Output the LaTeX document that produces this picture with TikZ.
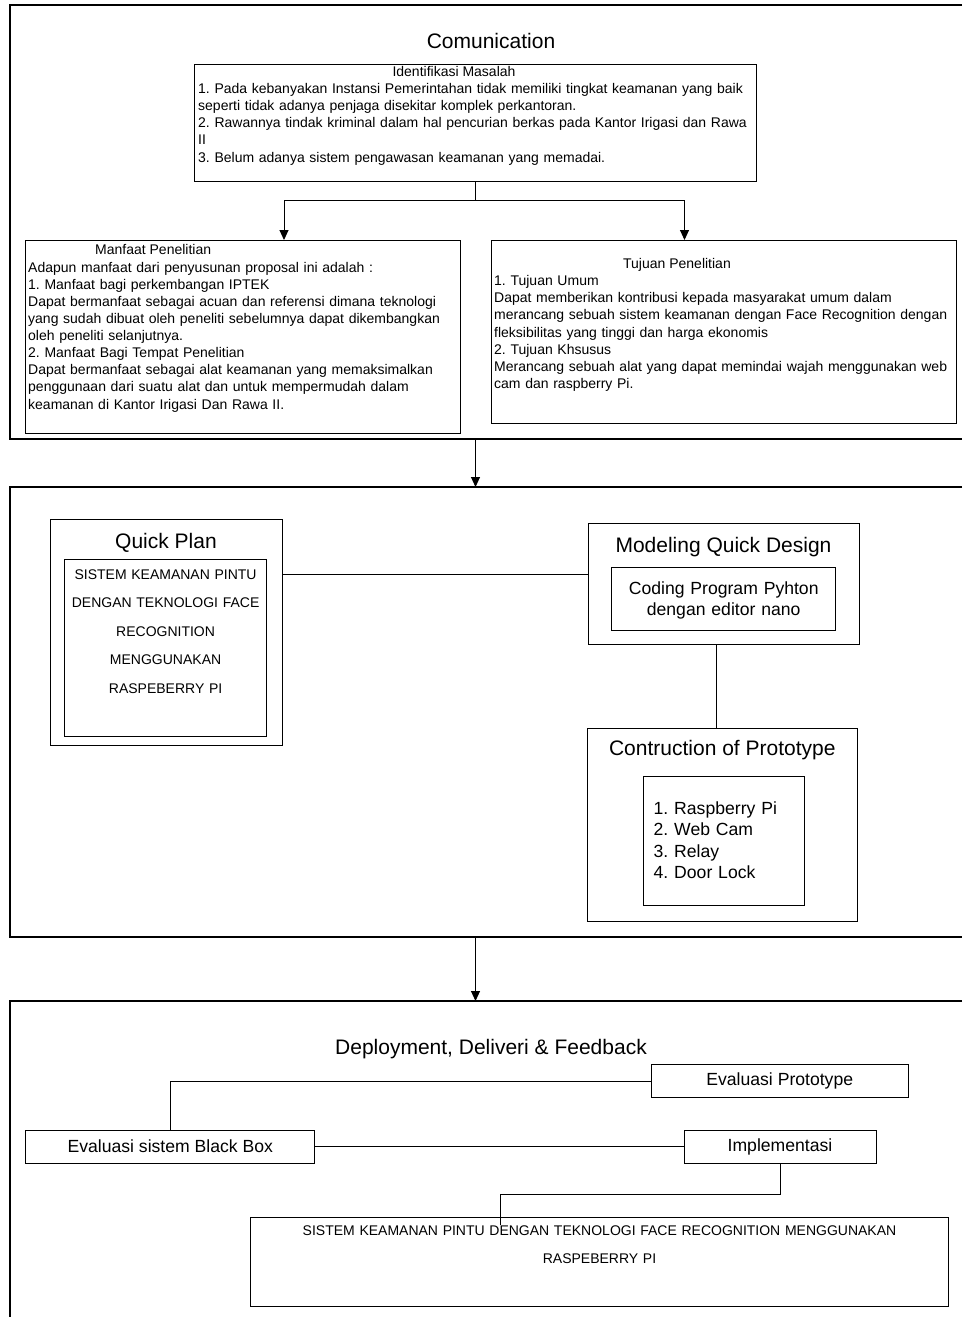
\documentclass[tikz,border=0pt]{standalone}
\usepackage{fontspec}
\setmainfont{Liberation Sans}
\usetikzlibrary{arrows.meta}
\frenchspacing
\begin{document}
\frenchspacing
\begin{tikzpicture}[x=1pt,y=-1pt,
  box/.style={draw, line width=1pt, inner sep=0pt, outer sep=0pt, anchor=north west},
  frame/.style={line width=1.2pt},
  conn/.style={line width=1pt},
  arr/.style={line width=1pt, -{Triangle[width=9pt,length=10pt]}},
  ttl/.style={font=\fontsize{21}{25}\selectfont, anchor=base, inner sep=0pt},
  body/.style={font=\fontsize{14}{17.1}\selectfont\frenchspacing, anchor=base west, inner sep=0pt, align=left},
  caps/.style={font=\fontsize{14}{28.5}\selectfont, anchor=base, inner sep=0pt, align=center},
  mid/.style={font=\fontsize{17.6}{21.2}\selectfont\frenchspacing, inner sep=0pt}
]
\useasboundingbox (0,0) rectangle (962,1317);

% frames
\draw[frame] (962,5) -- (10,5) -- (10,439) -- (962,439);
\draw[frame] (962,487) -- (10,487) -- (10,937) -- (962,937);
\draw[frame] (962,1001) -- (10,1001) -- (10,1317);
\coordinate (f1b) at (475.5,439);
\coordinate (f2t) at (475.5,487);
\coordinate (f2b) at (475.5,937);
\coordinate (f3t) at (475.5,1001);
\draw[arr] (f1b) -- (f2t);
\draw[arr] (f2b) -- (f3t);

% ---------- Comunication ----------
\node[ttl] (com) at (491,48) {Comunication};
\node[box, minimum width=562pt, minimum height=117pt] (idm) at (194.5,64.5) {};
\node[body, anchor=base] (idmt) at (454,76) {Identifikasi Masalah};
\node[body, text width=600pt] (idmb) at (198,93.6) {1. Pada kebanyakan Instansi Pemerintahan tidak memiliki tingkat keamanan yang baik\\
seperti tidak adanya penjaga disekitar komplek perkantoran.\\
2. Rawannya tindak kriminal dalam hal pencurian berkas pada Kantor Irigasi dan Rawa\\
II\\
3. Belum adanya sistem pengawasan keamanan yang memadai.};

\node[box, minimum width=435pt, minimum height=193pt] (man) at (25,240) {};
\node[body] (mant) at (95,254.6) {Manfaat Penelitian};
\node[body, text width=480pt] (manb) at (28,272.2) {Adapun manfaat dari penyusunan proposal ini adalah :\\
1. Manfaat bagi perkembangan IPTEK\\
Dapat bermanfaat sebagai acuan dan referensi dimana teknologi\\
yang sudah dibuat oleh peneliti sebelumnya dapat dikembangkan\\
oleh peneliti selanjutnya.\\
2. Manfaat Bagi Tempat Penelitian\\
Dapat bermanfaat sebagai alat keamanan yang memaksimalkan\\
penggunaan dari suatu alat dan untuk mempermudah dalam\\
keamanan di Kantor Irigasi Dan Rawa II.};

\node[box, minimum width=465pt, minimum height=183pt] (tuj) at (491.5,240) {};
\node[body, anchor=base] (tujt) at (677,268) {Tujuan Penelitian};
\node[body, text width=500pt] (tujb) at (494,285.7) {1. Tujuan Umum\\
Dapat memberikan kontribusi kepada masyarakat umum dalam\\
merancang sebuah sistem keamanan dengan Face Recognition dengan\\
fleksibilitas yang tinggi dan harga ekonomis\\
2. Tujuan Khsusus\\
Merancang sebuah alat yang dapat memindai wajah menggunakan web\\
cam dan raspberry Pi.};

\coordinate (jn) at (475.5,200);
\coordinate (manin) at (284,240);
\coordinate (tujin) at (684.5,240);
\draw[conn] (idm.south) -- (jn);
\draw[arr] (jn) -| (manin);
\draw[arr] (jn) -| (tujin);

% ---------- second frame ----------
\node[box, minimum width=232pt, minimum height=225.5pt] (qp) at (50.3,519.5) {};
\node[ttl] (qpt) at (166,548.7) {Quick Plan};
\node[box, minimum width=202.5pt, minimum height=176.7pt] (qpi) at (64.4,559.3) {};
\node[caps, text width=202pt] (qpb) at (165.6,579.3) {SISTEM KEAMANAN PINTU\\DENGAN TEKNOLOGI FACE\\RECOGNITION\\MENGGUNAKAN\\RASPEBERRY PI};

\node[box, minimum width=271pt, minimum height=120.5pt] (mqd) at (588,523.5) {};
\node[ttl] (mqdt) at (723.5,552) {Modeling Quick Design};
\node[box, minimum width=224pt, minimum height=62.3pt] (mqdi) at (611.7,567.7) {};
\node[mid, text width=224pt, align=center, anchor=base] (mqdb) at (723.7,594.3) {Coding Program Pyhton\\dengan editor nano};

\draw[conn] ([yshift=58pt]qp.east) -- ([yshift=58pt]qp.east -| mqd.west);

\node[box, minimum width=269.6pt, minimum height=192.7pt] (cp) at (587.7,728.3) {};
\node[ttl] (cpt) at (722.3,755.3) {Contruction of Prototype};
\node[box, minimum width=160.7pt, minimum height=129pt] (cpi) at (643.3,776) {};
\node[mid, font=\fontsize{17.6}{21.3}\selectfont\frenchspacing, text width=150pt, align=left, anchor=base west] (cpb) at (653.5,814.6) {1. Raspberry Pi\\2. Web Cam\\3. Relay\\4. Door Lock};

\draw[conn] ([xshift=-7pt]mqd.south) -- ([xshift=-7pt]mqd.south |- cp.north);

% ---------- third frame ----------
\node[ttl] (dep) at (491,1054) {Deployment, Deliveri \& Feedback};
\node[box, mid, minimum width=256.5pt, minimum height=33.4pt] (evp) at (651.5,1064.3) {Evaluasi Prototype};
\node[box, mid, minimum width=289pt, minimum height=33.3pt] (ebb) at (25.8,1130) {Evaluasi sistem Black Box};
\node[box, mid, minimum width=192pt, minimum height=33.3pt] (imp) at (684,1130) {Implementasi};
\node[box, minimum width=698.2pt, minimum height=88.3pt] (fin) at (250.3,1217.7) {};
\node[caps, font=\fontsize{14}{27.6}\selectfont, text width=690pt] (finb) at (599.5,1235.7) {SISTEM KEAMANAN PINTU DENGAN TEKNOLOGI FACE RECOGNITION MENGGUNAKAN\\RASPEBERRY PI};

\draw[conn] (ebb.north) |- (evp.west);
\draw[conn] (ebb.east) -- (imp.west);
\coordinate (fe) at (500,1225);
\draw[conn] (imp.south) -- ++(0,30.7) -| (fe);
\end{tikzpicture}
\end{document}
